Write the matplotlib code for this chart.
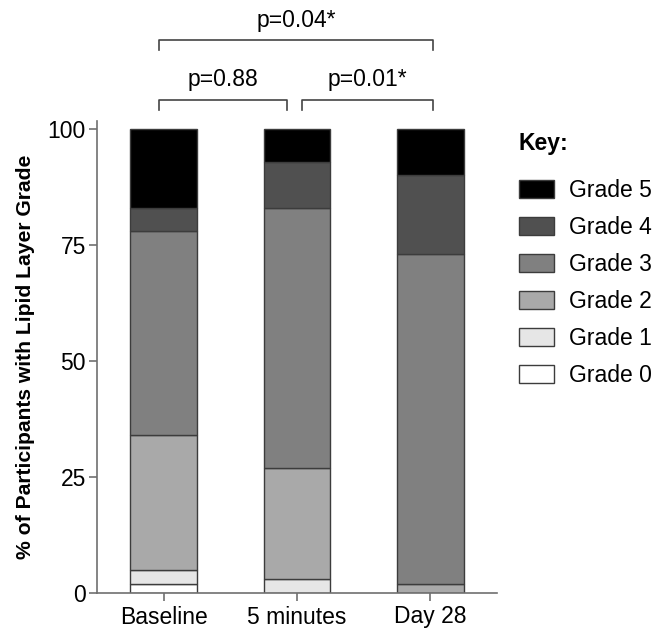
import matplotlib
matplotlib.use("Agg")
import matplotlib.pyplot as plt
import numpy as np

plt.rcParams['font.family'] = ['Liberation Sans', 'DejaVu Sans']

categories = ["Baseline", "5 minutes", "Day 28"]
grades = ["Grade 0", "Grade 1", "Grade 2", "Grade 3", "Grade 4", "Grade 5"]
grade0 = [2, 0, 0]
grade1 = [3, 3, 0]
grade2 = [29, 24, 2]
grade3 = [44, 56, 71]
grade4 = [5, 10, 17]
grade5 = [17, 7, 10]
series = [grade0, grade1, grade2, grade3, grade4, grade5]
colors = ["#ffffff", "#e6e6e6", "#a9a9a9", "#808080", "#505050", "#000000"]
yticks = [0, 25, 50, 75, 100]
comparisons = [(0, 1, "p=0.88", 106.3), (1, 2, "p=0.01*", 106.3), (0, 2, "p=0.04*", 119.2)]

W, H = 654, 630
fig = plt.figure(figsize=(W / 100, H / 100), dpi=100)
left, right, bottom, top = 97, 497, 593, 120.7
ax = fig.add_axes([left / W, (H - bottom) / H, (right - left) / W, (bottom - top) / H])

x = np.arange(len(categories))
base = np.zeros(len(categories))
bars = []
for vals, c, g in zip(series, colors, grades):
    b = ax.bar(x, vals, width=0.5, bottom=base, color=c, edgecolor="#3c3c3c",
               linewidth=1.0, label=g, zorder=2)
    bars.append(b)
    base += np.array(vals)

FS = 16.5
ax.set_xlim(-0.5, 2.5)
ax.set_ylim(0, 101.8)
ax.set_yticks(yticks)
ax.set_xticks(x)
ax.set_xticklabels(categories)
ax.tick_params(axis='both', labelsize=FS, color="#707070", length=6, width=1.2)
ax.tick_params(axis='x', pad=3)
ax.tick_params(axis='y', pad=2)
for s in ["top", "right"]:
    ax.spines[s].set_visible(False)
for s in ["left", "bottom"]:
    ax.spines[s].set_color("#707070")
    ax.spines[s].set_linewidth(1.2)
ax.set_ylabel("% of Participants with Lipid Layer Grade", fontsize=15.2,
              fontweight='bold', labelpad=9)

# significance brackets
for i, j, txt, yb in comparisons:
    x0 = i - 0.034 if i == 0 else i + 0.04
    x1 = j + 0.02 if j == 2 else j - 0.073
    ax.plot([x0, x0, x1, x1], [yb - 2.2, yb, yb, yb - 2.2], color="#444444",
            lw=1.2, clip_on=False)
    ax.text((x0 + x1) / 2, yb + 1.8, txt, ha='center', va='bottom', fontsize=FS)

# legend
fpx = FS * 100 / 72
handles = bars[::-1]
leg = fig.legend(handles, grades[::-1], loc='upper left',
                 bbox_to_anchor=(498 / W, 1 - 111 / H), frameon=False,
                 fontsize=FS, title="Key:", alignment='left',
                 title_fontproperties={'weight': 'bold', 'size': FS},
                 handlelength=35 / fpx, handleheight=19 / fpx,
                 labelspacing=0.61, handletextpad=15 / fpx)
leg._legend_box.sep = 17.5

fig.savefig("out.png", dpi=100)
